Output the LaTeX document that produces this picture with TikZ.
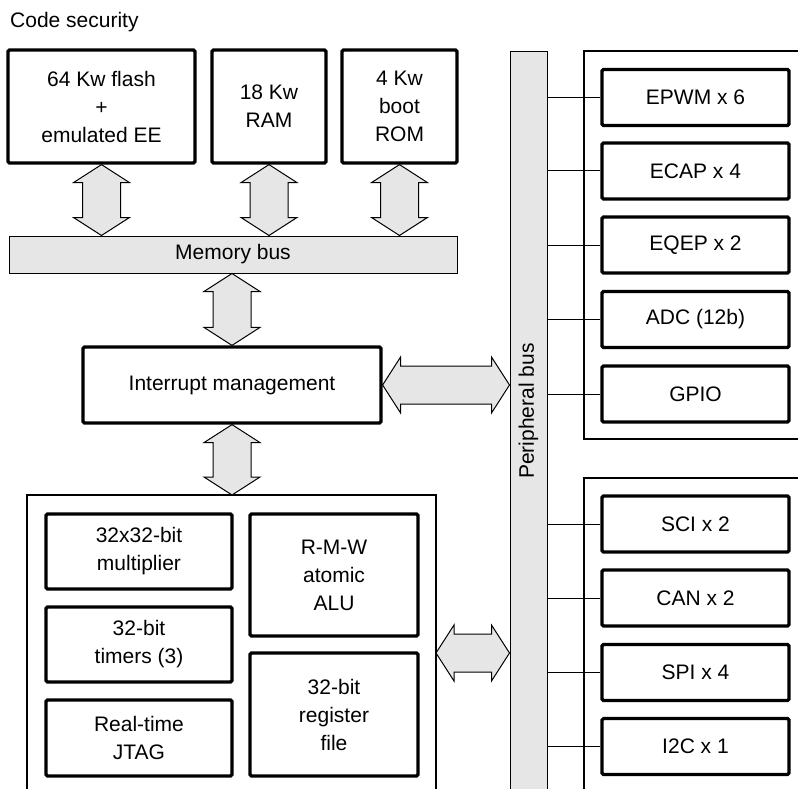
\documentclass[tikz,border=0pt]{standalone}
\usepackage{fontspec}
\setmainfont{Liberation Sans}
\usetikzlibrary{calc}
\definecolor{busgray}{RGB}{230,230,230}
\tikzset{
  txt/.style={font=\fontsize{21}{28}\selectfont},
  blk/.style={txt, draw, line width=3.2pt, rounded corners=1.5pt, align=center, inner sep=0pt},
  busbox/.style={txt, draw, line width=1pt, fill=busgray, inner sep=0pt},
  barrow/.style={draw, line width=1pt, fill=busgray, line join=miter},
  wire/.style={line width=1pt},
  grp/.style={line width=1.4pt},
  lbl/.style={txt, inner sep=0pt}
}
\newcommand{\myvarrow}[2]{\path[barrow] let \p1=(#1), \p2=(#2) in
  (\x1,\y1) -- (\x1+28pt,\y1-18pt) -- (\x1+19pt,\y1-18pt) -- (\x1+19pt,\y2+18pt)
  -- (\x1+28pt,\y2+18pt) -- (\x1,\y2) -- (\x1-28pt,\y2+18pt) -- (\x1-19pt,\y2+18pt)
  -- (\x1-19pt,\y1-18pt) -- (\x1-28pt,\y1-18pt) -- cycle;}
\newcommand{\myharrow}[2]{\path[barrow] let \p1=(#1), \p2=(#2) in
  (\x1,\y1) -- (\x1+18pt,\y1+28pt) -- (\x1+18pt,\y1+19pt) -- (\x2-18pt,\y1+19pt)
  -- (\x2-18pt,\y1+28pt) -- (\x2,\y1) -- (\x2-18pt,\y1-28pt) -- (\x2-18pt,\y1-19pt)
  -- (\x1+18pt,\y1-19pt) -- (\x1+18pt,\y1-28pt) -- cycle;}
\begin{document}
\begin{tikzpicture}[x=1pt,y=-1pt]
\useasboundingbox (0,0) rectangle (798,789);
\clip (0,0) rectangle (798,789);

% title
\node[lbl, anchor=base west] (title) at (10,28) {Code security};

% memories
\node[blk, minimum width=187, minimum height=113] (flash) at (101.5,106.5) {64 Kw flash\\+\\emulated EE};
\node[blk, minimum width=114, minimum height=113] (ram) at (269,106.5) {18 Kw\\RAM};
\node[blk, minimum width=115, minimum height=113] (rom) at (399.5,106.5) {4 Kw\\boot\\ROM};

% memory bus
\node[busbox, minimum width=448, minimum height=37] (membus) at (233,254.5) {Memory bus};

% interrupt management
\node[blk, minimum width=298, minimum height=76] (intr) at (232,385) {Interrupt management};

% CPU container
\coordinate (cpuNW) at (27,495);
\coordinate (cpuNE) at (436,495);
\coordinate (cpuE) at (436,653);
\draw[grp] (27,800) |- (cpuNE) -- (436,800);

\node[blk, minimum width=186, minimum height=75] (mult) at (139,551.5) {32x32-bit\\multiplier};
\node[blk, minimum width=186, minimum height=75] (timers) at (139,644.5) {32-bit\\timers (3)};
\node[blk, minimum width=186, minimum height=76] (jtag) at (139,738) {Real-time\\JTAG};
\node[blk, minimum width=168, minimum height=122] (alu) at (334,575) {R-M-W\\atomic\\ALU};
\node[blk, minimum width=168, minimum height=123] (regf) at (334,714.5) {32-bit\\register\\file};

% peripheral bus
\node[busbox, minimum width=37, minimum height=760, anchor=north] (pbus) at (528.5,51) {};
\node[lbl, rotate=90] (pbuslbl) at (528.5,411) {Peripheral bus};

% peripheral groups
\draw[grp] (800,51) -| (584,439) -- (800,439);
\draw[grp] (800,478) -| (584,800);

\foreach \n/\y/\t in {epwm/97.5/EPWM x 6, ecap/171/ECAP x 4, eqep/245/EQEP x 2,
    adc/319.5/ADC (12b), gpio/394/GPIO, sci/524/SCI x 2, can/598/CAN x 2,
    spi/672.5/SPI x 4, iic/746.5/I2C x 1}{
  \node[blk, minimum width=187, minimum height=56] (\n) at (695.5,\y) {\t};
  \draw[wire] (pbus.east |- \n.west) -- (\n.west);
}

% block arrows
\myvarrow{flash.south}{membus.north -| flash.south}
\myvarrow{ram.south}{membus.north -| ram.south}
\myvarrow{rom.south}{membus.north -| rom.south}
\myvarrow{membus.south -| intr.north}{intr.north}
\myvarrow{intr.south}{cpuNW -| intr.south}
\myharrow{intr.east}{pbus.west |- intr.east}
\myharrow{cpuE}{pbus.west |- cpuE}
\end{tikzpicture}
\end{document}
